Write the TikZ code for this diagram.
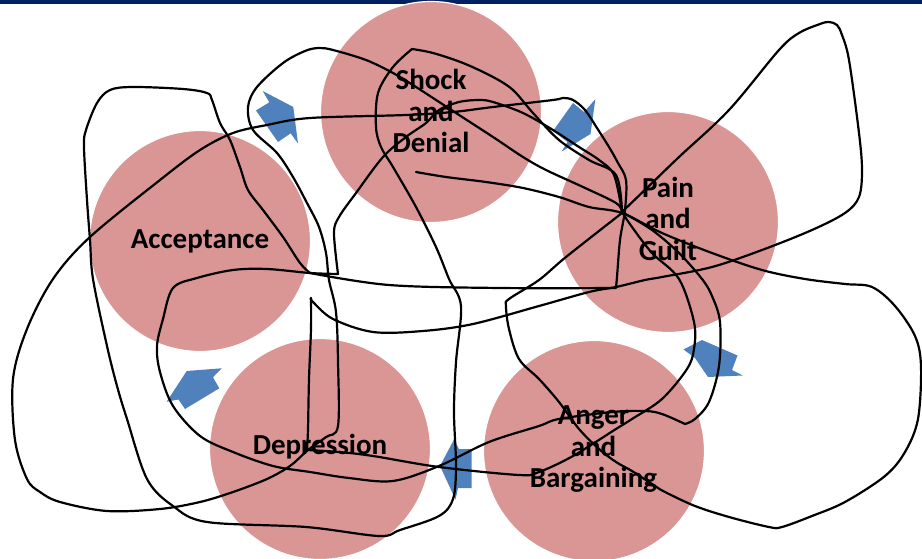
\documentclass[tikz,border=0pt]{standalone}
\usepackage{fontspec}
\setmainfont{Carlito}
\definecolor{navy}{HTML}{002060}
\definecolor{bubblepink}{HTML}{D99694}
\definecolor{arrowblue}{HTML}{4F81BD}
\begin{document}
\begin{tikzpicture}[x=1pt,y=-1pt,
  bubble/.style={circle,fill=bubblepink,draw=white,line width=1.2pt,minimum size=221pt,inner sep=0pt},
  lbl/.style={font=\fontsize{29}{31.5}\selectfont\bfseries,align=center,inner sep=0pt,text=black},
  blk/.style={fill=arrowblue,draw=none},
  scrib/.style={draw=black,line width=2.2pt,line cap=round,line join=round}]
\useasboundingbox (0,0) rectangle (922,559);
\fill[white] (0,0) rectangle (922,559);
\fill[navy] (0,0) rectangle (922,4.5);
% circles
\node[bubble] (c1) at (431,112) {};
\node[bubble] (c2) at (668,222) {};
\node[bubble] (c3) at (594,451) {};
\node[bubble] (c4) at (320,449) {};
\node[bubble] (c5) at (200,241) {};
% arrows
\fill[blk] (262.7,91) -- (269.3,102.3) -- (256,110.5) -- (278,142) -- (290.7,133.3) -- (298,143.5) -- (293.3,107) -- cycle;
\fill[blk] (561.5,151.7) -- (567.5,142) -- (553,131) -- (573,103) -- (584,112) -- (595.3,99.3) -- (590.5,134) -- cycle;
\fill[blk] (683.5,349.5) -- (702,340) -- (737.5,355.5) -- (732,370) -- (742.7,375.5) -- (708,377) -- (695,358) -- cycle;
\fill[blk] (454,439.5) -- (459,449) -- (471.7,449) -- (471.7,488) -- (458,488) -- (455.5,499.5) -- (440,466) -- cycle;
\fill[blk] (166.7,401.7) -- (186.7,371) -- (221.7,368.3) -- (213,377.3) -- (219.3,388.3) -- (185,409) -- (178.5,399.5) -- cycle;
% labels
\node[lbl] (t1) at (431,111) {Shock\\and\\Denial};
\node[lbl] (t2) at (668,218.5) {Pain\\and\\Guilt};
\node[lbl] (t3) at (593.5,449.5) {Anger\\and\\Bargaining};
\node[lbl,anchor=base] (t4) at (320,454) {Depression};
\node[lbl,anchor=base] (t5) at (200,248) {Acceptance};
% scribbles
\draw[scrib] plot[smooth,tension=0.55] coordinates {(622,212) (616,175) (589,160) (559,140) (533,113) (513,90) (493,77) (463,63) (433,53) (412,49)};
\draw[scrib] plot[smooth,tension=0.55] coordinates {(412,49) (393,67) (378,93) (376,127) (381,147) (393,167) (416,207) (436,247) (449,279) (461,306) (456,362) (454,412) (456,466) (453,499) (439,516) (400,530) (379,536) (306,527) (207,522) (173,506) (147,479) (127,419) (117,386) (107,346) (93,279) (90,240) (87,200) (84,147) (86,130) (97,103) (110,90) (133,87) (183,89) (207,93) (212,100) (220,123) (230,140) (240,167) (248,190) (263,210) (283,237) (300,263) (310,273)};
\draw[scrib] plot[smooth,tension=0.55] coordinates {(622,212) (652,230) (679,253) (702,279) (712,296) (720,322) (719,366) (709,402) (695,419) (685,424)};
\draw[scrib] plot[smooth,tension=0.55] coordinates {(685,424) (662,414) (645,411) (612,412) (559,419) (539,426) (489,442) (439,466) (393,481) (349,478) (310,472) (273,466) (233,452) (200,436) (173,406) (160,372) (157,346) (163,319) (173,288) (197,278) (233,270) (267,269) (310,273) (338,274)};
\draw[scrib] plot[smooth,tension=0.55] coordinates {(338,274) (334,233) (339,217) (356,193) (383,157) (406,137) (426,123) (439,110) (459,102) (479,100) (493,102) (523,113) (553,130) (579,147) (599,160) (614,175) (622,212)};
\draw[scrib] plot[smooth,tension=0.55] coordinates {(622,212) (616,203) (583,187) (546,170) (523,157) (493,137) (456,113) (416,87) (393,73) (366,60) (333,50) (319,48) (305,51) (283,63) (257,87) (248,107) (253,130) (277,153) (293,177) (307,203) (319,227) (326,253) (329,280) (336,312) (338,362) (338,426) (326,437) (308,450) (290,466) (267,479) (233,492) (200,502) (160,509) (107,511) (60,502) (40,492) (27,479) (15,440) (13,379) (27,329) (53,279) (90,237) (160,180) (200,150) (233,133) (267,125) (310,118) (406,115) (453,112) (493,107) (553,100) (563,98) (573,100) (585,110) (597,128) (609,147) (618,163) (626,180) (625,210) (620,240) (617,277) (616,287)};
\draw[scrib] plot[smooth,tension=0.55] coordinates {(622,212) (650,185) (679,157) (729,110) (779,50) (799,33) (820,24) (829,22) (837,25) (842,35) (849,60) (859,133) (862,170) (859,197) (845,213) (812,230) (762,250) (712,267) (662,277) (645,280) (616,287) (589,292) (539,306) (473,324) (423,331) (373,332) (333,319) (313,302) (311,298)};
\draw[scrib] plot[smooth,tension=0.55] coordinates {(311,298) (311,329) (309,379) (308,429) (307,450)};
\draw[scrib] plot[smooth,tension=0.55] coordinates {(307,450) (339,452) (373,456) (439,467) (519,475) (539,472) (573,456) (616,429) (632,419) (662,399) (687,369) (694,349) (694,322) (679,279) (652,253) (632,227) (622,212)};
\draw[scrib] plot[smooth,tension=0.55] coordinates {(310,273) (389,285) (500,288) (616,288)};
\draw[scrib] plot[smooth,tension=0.55] coordinates {(416,172) (446,177) (486,182) (523,188) (559,197) (589,207) (622,213) (662,233) (712,253) (762,270) (805,279) (845,284) (872,287) (895,306) (915,336) (921,366) (918,419) (905,452) (885,476) (845,502) (812,516) (782,527) (769,527) (729,517) (695,506) (665,492) (655,486) (632,471) (616,462) (599,449) (579,429) (559,402) (539,379) (519,359) (509,329) (506,306) (509,299) (539,280) (566,257) (622,213)};
\end{tikzpicture}
\end{document}
